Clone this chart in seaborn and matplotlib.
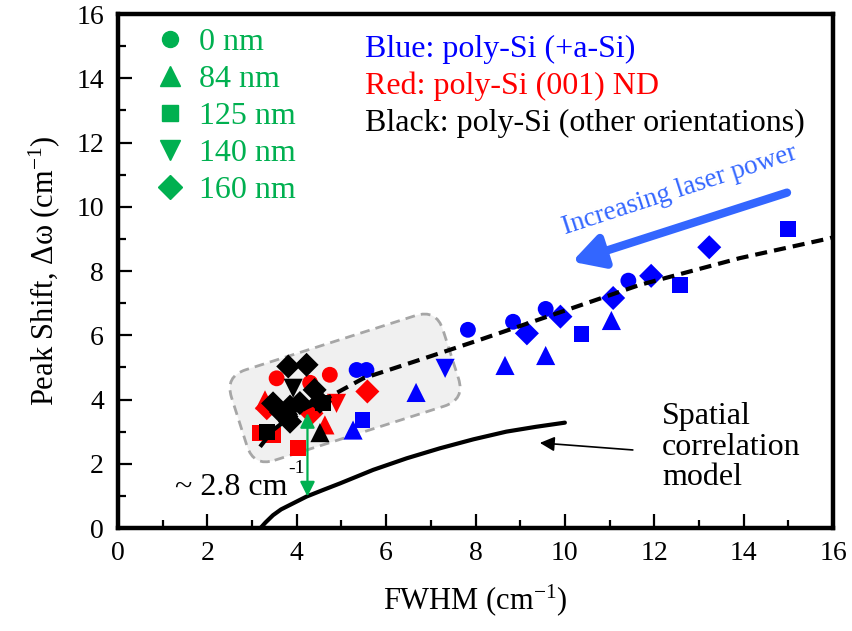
import numpy as np
import pandas as pd
import matplotlib
matplotlib.use("Agg")
import matplotlib.pyplot as plt
import seaborn as sns
from matplotlib.patches import FancyBboxPatch
from matplotlib.transforms import Affine2D
from matplotlib.lines import Line2D
from matplotlib.ticker import MultipleLocator

# ---------------- data ----------------
thickness_labels = ["0 nm", "84 nm", "125 nm", "140 nm", "160 nm"]
thickness_markers = ["o", "^", "s", "v", "D"]

# Blue: poly-Si (+a-Si)
blue_fwhm  = [5.34, 5.56, 7.83, 8.84, 9.57, 11.42,
              5.26, 6.67, 8.66, 9.57, 11.04,
              5.47, 10.37, 12.58, 14.99,
              7.32,
              9.15, 9.90, 11.08, 11.93, 13.23]
blue_shift = [4.92, 4.92, 6.17, 6.42, 6.82, 7.70,
              3.05, 4.22, 5.06, 5.37, 6.46,
              3.36, 6.04, 7.57, 9.30,
              4.97,
              6.06, 6.58, 7.16, 7.85, 8.74]
blue_thick = ["0 nm"] * 6 + ["84 nm"] * 5 + ["125 nm"] * 4 + ["140 nm"] + ["160 nm"] * 5

# Red: poly-Si (001) ND
red_fwhm  = [3.55, 4.74, 4.30,
             4.63, 3.29,
             3.18, 3.47, 4.03,
             4.89,
             5.58, 3.33, 4.33]
red_shift = [4.66, 4.77, 4.52,
             3.21, 3.99,
             2.95, 2.90, 2.48,
             3.88,
             4.25, 3.73, 3.57]
red_thick = ["0 nm"] * 3 + ["84 nm"] * 2 + ["125 nm"] * 3 + ["140 nm"] + ["160 nm"] * 3

# Black: poly-Si (other orientations)
black_fwhm  = [4.52,
               4.59, 3.33,
               3.92,
               3.81, 4.22, 3.47, 3.85, 3.77, 4.40, 4.52, 4.07, 3.85, 3.65]
black_shift = [2.97,
               3.89, 3.00,
               4.35,
               5.03, 5.08, 3.88, 3.78, 3.47, 4.30, 3.93, 3.89, 3.31, 3.60]
black_thick = ["84 nm"] + ["125 nm"] * 2 + ["140 nm"] + ["160 nm"] * 10

# dashed guide (trend of measured data)
trend_fwhm  = [3.18, 3.47, 3.85, 4.22, 4.74, 5.49, 6.98, 8.10, 9.44, 11.68, 13.91, 15.93, 16.0]
trend_shift = [2.53, 3.05, 3.45, 3.75, 4.09, 4.66, 5.34, 5.86, 6.50, 7.57, 8.40, 9.02, 9.05]

# spatial correlation model
model_fwhm  = [3.19, 3.30, 3.47, 3.65, 3.85, 4.22, 4.60, 4.97, 5.71, 6.46, 7.20, 7.95, 8.69, 9.35, 10.0]
model_shift = [0.00, 0.17, 0.40, 0.58, 0.72, 0.98, 1.19, 1.39, 1.81, 2.17, 2.48, 2.76, 3.00, 3.15, 3.28]

x_ticks = [0, 2, 4, 6, 8, 10, 12, 14, 16]
y_ticks = [0, 2, 4, 6, 8, 10, 12, 14, 16]

# ---------------- style ----------------
sns.set_style("ticks")
plt.rcParams["font.family"] = ["Liberation Serif", "DejaVu Serif"]
plt.rcParams["mathtext.fontset"] = "custom"
plt.rcParams["mathtext.rm"] = "Liberation Serif"
plt.rcParams["mathtext.it"] = "Liberation Serif:italic"
plt.rcParams["axes.edgecolor"] = "black"
plt.rcParams["xtick.color"] = "black"
plt.rcParams["ytick.color"] = "black"
plt.rcParams["text.color"] = "black"
plt.rcParams["axes.labelcolor"] = "black"

BLUE, RED, BLACK = "#0000ff", "#ff0000", "#000000"
GREEN = "#00b050"
ARROW_BLUE = "#3366ff"

df = pd.DataFrame({
    "fwhm": blue_fwhm + red_fwhm + black_fwhm,
    "shift": blue_shift + red_shift + black_shift,
    "group": ["blue"] * len(blue_fwhm) + ["red"] * len(red_fwhm) + ["black"] * len(black_fwhm),
    "thick": blue_thick + red_thick + black_thick,
})

fig = plt.figure(figsize=(8.53, 6.31), dpi=100)
ax = fig.add_axes([0.1383, 0.1632, 0.8383, 0.8146])
ax.set_xlim(0, 16)
ax.set_ylim(0, 16)

# sizes in points^2
size_map = {"0 nm": 130, "84 nm": 190, "125 nm": 130, "140 nm": 190, "160 nm": 150}
sns.scatterplot(data=df, x="fwhm", y="shift", hue="group", style="thick", size="thick",
                palette={"blue": BLUE, "red": RED, "black": BLACK},
                markers=dict(zip(thickness_labels, thickness_markers)),
                sizes=size_map, linewidth=0, legend=False, ax=ax, zorder=3)

# grey rotated rounded box
sx = ax.bbox.width / 16.0
sy = ax.bbox.height / 16.0
cx, cy = 5.08, 4.36
box = FancyBboxPatch((-111, -47.5), 222, 95,
                     boxstyle="round,pad=0,rounding_size=22",
                     facecolor="#f0f0f0", edgecolor="#a6a6a6", lw=2.0,
                     linestyle=(0, (3.5, 2.2)), zorder=1)
box.set_transform(Affine2D().rotate_deg(17.7).translate(cx * sx, cy * sy).scale(1 / sx, 1 / sy) + ax.transData)
ax.add_patch(box)

# curves
ax.plot(trend_fwhm, trend_shift, color="black", lw=3.0, dashes=(2.9, 1.7), zorder=4)
ax.plot(model_fwhm, model_shift, color="black", lw=3.0, zorder=4, solid_joinstyle="round")

# green double arrow
ax.annotate("", xy=(4.24, 0.98), xytext=(4.24, 3.58),
            arrowprops=dict(arrowstyle="<|-|>", color=GREEN, lw=1.6,
                            mutation_scale=22, shrinkA=0, shrinkB=0), zorder=5)
ax.text(1.28, 1.03, "~ 2.8 cm", fontsize=23, ha="left", va="baseline", zorder=5)
ax.text(3.82, 1.72, "-1", fontsize=14, ha="left", va="baseline", zorder=5)

# spatial correlation pointer
ax.annotate("", xy=(9.44, 2.65), xytext=(11.52, 2.43),
            arrowprops=dict(arrowstyle="-|>", color="black", lw=1.2,
                            mutation_scale=22, shrinkA=0, shrinkB=0))
ax.text(12.17, 2.52, "Spatial\ncorrelation\nmodel", fontsize=23, ha="left", va="center",
        linespacing=1.08)

# laser power arrow + text
ax.annotate("", xy=(10.16, 8.29), xytext=(14.97, 10.44),
            arrowprops=dict(arrowstyle="-|>,head_length=0.65,head_width=0.36", color=ARROW_BLUE,
                            lw=6, mutation_scale=28, shrinkA=0, shrinkB=0))
ax.text(12.58, 10.52, "Increasing laser power", fontsize=19.5, color=ARROW_BLUE,
        rotation=18, rotation_mode="anchor", ha="center", va="center")

# colour key text
ax.text(0.345, 0.932, "Blue: poly-Si (+a-Si)", transform=ax.transAxes, fontsize=23, color=BLUE, va="center")
ax.text(0.345, 0.860, "Red: poly-Si (001) ND", transform=ax.transAxes, fontsize=23, color=RED, va="center")
ax.text(0.345, 0.788, "Black: poly-Si (other orientations)", transform=ax.transAxes, fontsize=23, color=BLACK, va="center")

# thickness legend
leg_sizes = [11.5, 14.0, 11.3, 14.0, 11.8]
handles = [Line2D([], [], marker=m, color=GREEN, ls="none", ms=s)
           for m, s in zip(thickness_markers, leg_sizes)]
ax.legend(handles, thickness_labels, loc="upper left", bbox_to_anchor=(0.050, 0.974),
          frameon=False, fontsize=23, labelcolor=GREEN, handlelength=1.0,
          handletextpad=0.42, labelspacing=0.24, borderpad=0, borderaxespad=0)

# axes styling
ax.set_xticks(x_ticks)
ax.set_yticks(y_ticks)
ax.xaxis.set_minor_locator(MultipleLocator(1))
ax.yaxis.set_minor_locator(MultipleLocator(1))
ax.tick_params(which="both", direction="in", top=False, right=False, width=1.6, labelsize=20,
               color="black", labelcolor="black")
ax.tick_params(which="major", length=10)
ax.tick_params(which="minor", length=6)
ax.tick_params(axis="x", pad=9)
ax.tick_params(axis="y", pad=10)
for sp in ax.spines.values():
    sp.set_linewidth(3.2)
    sp.set_color("black")
    sp.set_visible(True)

ax.set_xlabel(r"FWHM (cm$^{\mathregular{-1}}$)", fontsize=22, labelpad=12)
ax.set_ylabel(r"Peak Shift, $\mathregular{\Delta\omega}$ (cm$^{\mathregular{-1}}$)", fontsize=22, labelpad=10)

fig.savefig("out.png", dpi=100)
